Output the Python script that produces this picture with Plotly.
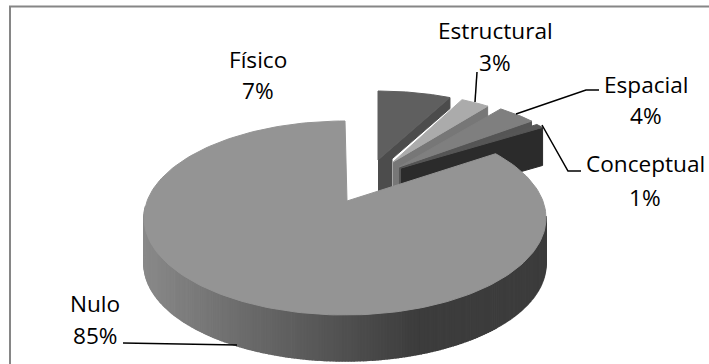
import numpy as np
import plotly.graph_objects as go

labels = ["Físico", "Estructural", "Espacial", "Conceptual", "Nulo"]
values = [7, 3, 4, 1, 85]
top_colors = ["#5f5f5f", "#ababab", "#7f7f7f", "#565656", "#949494"]
wall_colors = ["#4c4c4c", "#777777", "#555555", "#2b2b2b", None]

# geometry of each slice: apex, radii, near depth, far depth, apex band width
apex = [(378, 160), (393, 162), (399, 167), (401, 168), (347, 201)]
radii = [(169, 69), (161, 69), (172, 72), (175, 69), (201, 97)]
near_depth = [38, 32, 26, 40, 46]
far_depth = [11, 11, 9, 38, 46]
band = [14, 6, 6, 0, 0]
NULO_C = (345, 218)
NULO_WARP = 311.5 / 306  # foreshortening of the large slice towards the back

fracs = np.array(values) / sum(values) * 2 * np.pi
starts = np.concatenate([[0], np.cumsum(fracs)[:-1]])
ends = starts + fracs

fig = go.Figure()


def poly(xs, ys, color, w=1):
    fig.add_trace(go.Scatter(x=list(xs), y=list(ys), mode="lines", fill="toself", fillcolor=color,
                             line=dict(color=color, width=w), hoverinfo="skip", showlegend=False))


def arc(i, a0, a1, n=60):
    t = np.linspace(a0, a1, n)
    if i == 4:
        t = 2 * np.pi - (2 * np.pi - t) * NULO_WARP
    rx, ry = radii[i]
    cx, cy = NULO_C if i == 4 else apex[i]
    return cx + rx * np.sin(t), cy - ry * np.cos(t)


# exploded slices, back to front: the side wall then the top face
for i in range(4):
    ax, ay = apex[i]
    x1, y1 = arc(i, ends[i], ends[i], 1)
    x1, y1 = x1[0], y1[0]
    b = band[i]
    poly([ax, x1, x1, ax + b, ax + b, ax],
         [ay, y1, y1 + far_depth[i], ay + (y1 - ay) * b / (x1 - ax) + far_depth[i],
          ay + near_depth[i], ay + near_depth[i]], wall_colors[i])
    x, y = arc(i, starts[i], ends[i])
    poly(np.r_[ax, x, ax], np.r_[ay, y, ay], top_colors[i])

# large slice: shaded rim
angles = np.linspace(np.pi / 2 - 0.02, 3 * np.pi / 2 + 0.12, 220)
shade_x = [143, 250, 340, 420, 545]
shade_v = [138, 106, 82, 60, 60]
for a0, a1 in zip(angles[:-1], angles[1:]):
    t = np.linspace(a0, a1, 3)
    x = NULO_C[0] + radii[4][0] * np.sin(t)
    y = NULO_C[1] - radii[4][1] * np.cos(t)
    v = int(np.interp(np.mean(x), shade_x, shade_v))
    c = f"rgb({v},{v},{v})"
    poly(np.r_[x, x[::-1]], np.r_[y, y[::-1] + near_depth[4]], c, 1.5)

x, y = arc(4, starts[4], ends[4], 200)
poly(np.r_[apex[4][0], x, apex[4][0]], np.r_[apex[4][1], y, apex[4][1]], top_colors[4])

# leader lines
leaders = [
    ([475, 477], [102, 72]),
    ([516, 586, 599], [114, 90, 90]),
    ([542, 568, 581], [125, 171, 171]),
    ([123, 237], [343, 345]),
]
for lx, ly in leaders:
    fig.add_trace(go.Scatter(x=lx, y=ly, mode="lines", line=dict(color="black", width=1.5),
                             hoverinfo="skip", showlegend=False))

# labels
pcts = [f"{v}%" for v in values]
name_pos = [(258, 59), (495, 30), (646, 84), (645, 163), (95, 303)]
pct_pos = [(258, 90), (495, 62), (646, 115), (645, 197), (95, 335)]
ann = []
for l, t, p, q in zip(labels, pcts, name_pos, pct_pos):
    for s, pos in ((l, p), (t, q)):
        ann.append(dict(x=pos[0], y=pos[1], text=s, showarrow=False, xref="x", yref="y",
                        font=dict(family="Open Sans", size=22.6, color="black"), align="center"))

fig.update_layout(
    width=709, height=364, margin=dict(l=0, r=0, t=0, b=0), autosize=False,
    paper_bgcolor="white", plot_bgcolor="white", showlegend=False, annotations=ann,
    xaxis=dict(range=[0, 709], visible=False, fixedrange=True),
    yaxis=dict(range=[364, 0], visible=False, fixedrange=True),
    shapes=[dict(type="rect", x0=10, y0=6.5, x1=730, y1=385, xref="x", yref="y",
                 line=dict(color="#868686", width=2))],
)
fig.write_html("out.html", config=dict(displayModeBar=False),
               post_script="document.body.style.margin='0';document.body.style.overflow='hidden';")
